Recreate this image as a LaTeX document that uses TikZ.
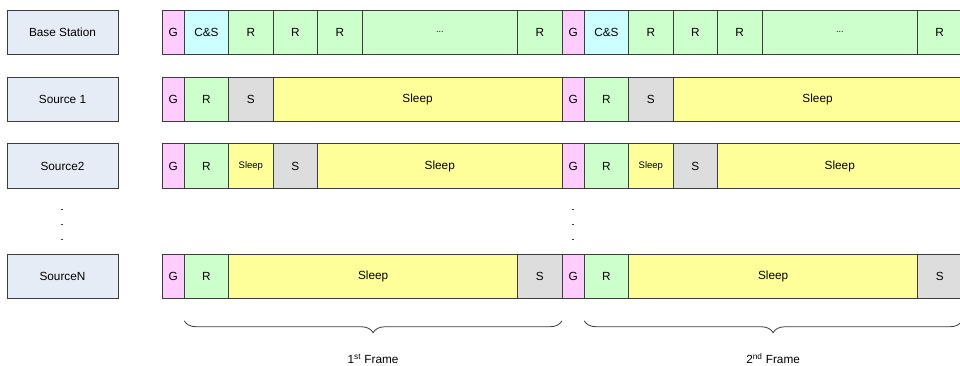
\documentclass[tikz,border=0pt]{standalone}
\usepackage{fontspec}
\setmainfont{Liberation Sans}
\usetikzlibrary{positioning,decorations.pathreplacing}

\definecolor{linegray}{RGB}{60,60,60}
\definecolor{lblblue}{RGB}{230,236,246}
\definecolor{gpink}{RGB}{255,204,255}
\definecolor{cscyan}{RGB}{204,255,255}
\definecolor{rgreen}{RGB}{204,255,204}
\definecolor{sgray}{RGB}{221,221,221}
\definecolor{slyellow}{RGB}{255,255,153}

\begin{document}
\begin{tikzpicture}[x=1pt,y=-1pt,node distance=0pt,
        every node/.style={font=\fontsize{11.8}{13}\selectfont},
        slot/.style={draw=linegray, line width=0.9pt, minimum height=44.5pt, inner sep=0pt, outer sep=0pt},
        lbl/.style={slot, fill=lblblue, minimum width=111pt},
        gbox/.style={slot, fill=gpink, minimum width=22.22pt},
        csbox/.style={slot, fill=cscyan, minimum width=44.44pt},
        rbox/.style={slot, fill=rgreen, minimum width=44.44pt},
        sbox/.style={slot, fill=sgray, minimum width=44.44pt},
        slbox/.style={slot, fill=slyellow, minimum width=44.44pt},
        brc/.style={decorate, decoration={brace, mirror, amplitude=12pt}, draw=linegray, line width=0.8pt}]
        \useasboundingbox (0,0) rectangle (960,366);
        % station names
        \node[lbl] (base) at (62.5,32.5) {Base Station};
        \node[lbl] (src1) at (62.5,99.5) {Source 1};
        \node[lbl] (src2) at (62.5,166) {Source2};
        \node[lbl] (srcn) at (62.5,276.5) {SourceN};
        % base station
        \node[gbox] (b1) [right=44pt of base] {G};
        \node[csbox] (b2) [right=of b1] {C\&S};
        \node[rbox] (b3) [right=of b2] {R};
        \node[rbox] (b4) [right=of b3] {R};
        \node[rbox] (b5) [right=of b4] {R};
        \node[rbox, minimum width=155.56pt, font=\fontsize{9}{10}\selectfont] (b6) [right=of b5] {...};
        \node[rbox] (b7) [right=of b6] {R};
        \node[gbox] (b8) [right=of b7] {G};
        \node[csbox] (b9) [right=of b8] {C\&S};
        \node[rbox] (b10) [right=of b9] {R};
        \node[rbox] (b11) [right=of b10] {R};
        \node[rbox] (b12) [right=of b11] {R};
        \node[rbox, minimum width=155.56pt, font=\fontsize{9}{10}\selectfont] (b13) [right=of b12] {...};
        \node[rbox] (b14) [right=of b13] {R};
        % source 1
        \node[gbox] (a1) [right=44pt of src1] {G};
        \node[rbox] (a2) [right=of a1] {R};
        \node[sbox] (a3) [right=of a2] {S};
        \node[slbox, minimum width=288.89pt] (a4) [right=of a3] {Sleep};
        \node[gbox] (a5) [right=of a4] {G};
        \node[rbox] (a6) [right=of a5] {R};
        \node[sbox] (a7) [right=of a6] {S};
        \node[slbox, minimum width=288.89pt] (a8) [right=of a7] {Sleep};
        % source 2
        \node[gbox] (c1) [right=44pt of src2] {G};
        \node[rbox] (c2) [right=of c1] {R};
        \node[slbox, font=\fontsize{9.5}{10}\selectfont] (c3) [right=of c2] {Sleep};
        \node[sbox] (c4) [right=of c3] {S};
        \node[slbox, minimum width=244.44pt] (c5) [right=of c4] {Sleep};
        \node[gbox] (c6) [right=of c5] {G};
        \node[rbox] (c7) [right=of c6] {R};
        \node[slbox, font=\fontsize{9.5}{10}\selectfont] (c8) [right=of c7] {Sleep};
        \node[sbox] (c9) [right=of c8] {S};
        \node[slbox, minimum width=244.44pt] (c10) [right=of c9] {Sleep};
        % source N
        \node[gbox] (n1) [right=44pt of srcn] {G};
        \node[rbox] (n2) [right=of n1] {R};
        \node[slbox, minimum width=288.89pt] (n3) [right=of n2] {Sleep};
        \node[sbox] (n4) [right=of n3] {S};
        \node[gbox] (n5) [right=of n4] {G};
        \node[rbox] (n6) [right=of n5] {R};
        \node[slbox, minimum width=288.89pt] (n7) [right=of n6] {Sleep};
        \node[sbox] (n8) [right=of n7] {S};
        % vertical dots
        \foreach \y in {209,224,239} {
            \fill[linegray] (61,\y) rectangle +(2,1.4);
            \fill[linegray] (572,\y) rectangle +(2,1.4);
        }
        % frames
        \draw[brc] ([yshift=-22pt]n2.south west) -- ([yshift=-22pt]n4.south east)
            node[midway, yshift=-38pt] (f1) {1\textsuperscript{st} Frame};
        \draw[brc] ([yshift=-22pt]n6.south west) -- ([yshift=-22pt]n8.south east)
            node[midway, yshift=-38pt] (f2) {2\textsuperscript{nd} Frame};
\end{tikzpicture}
\end{document}
